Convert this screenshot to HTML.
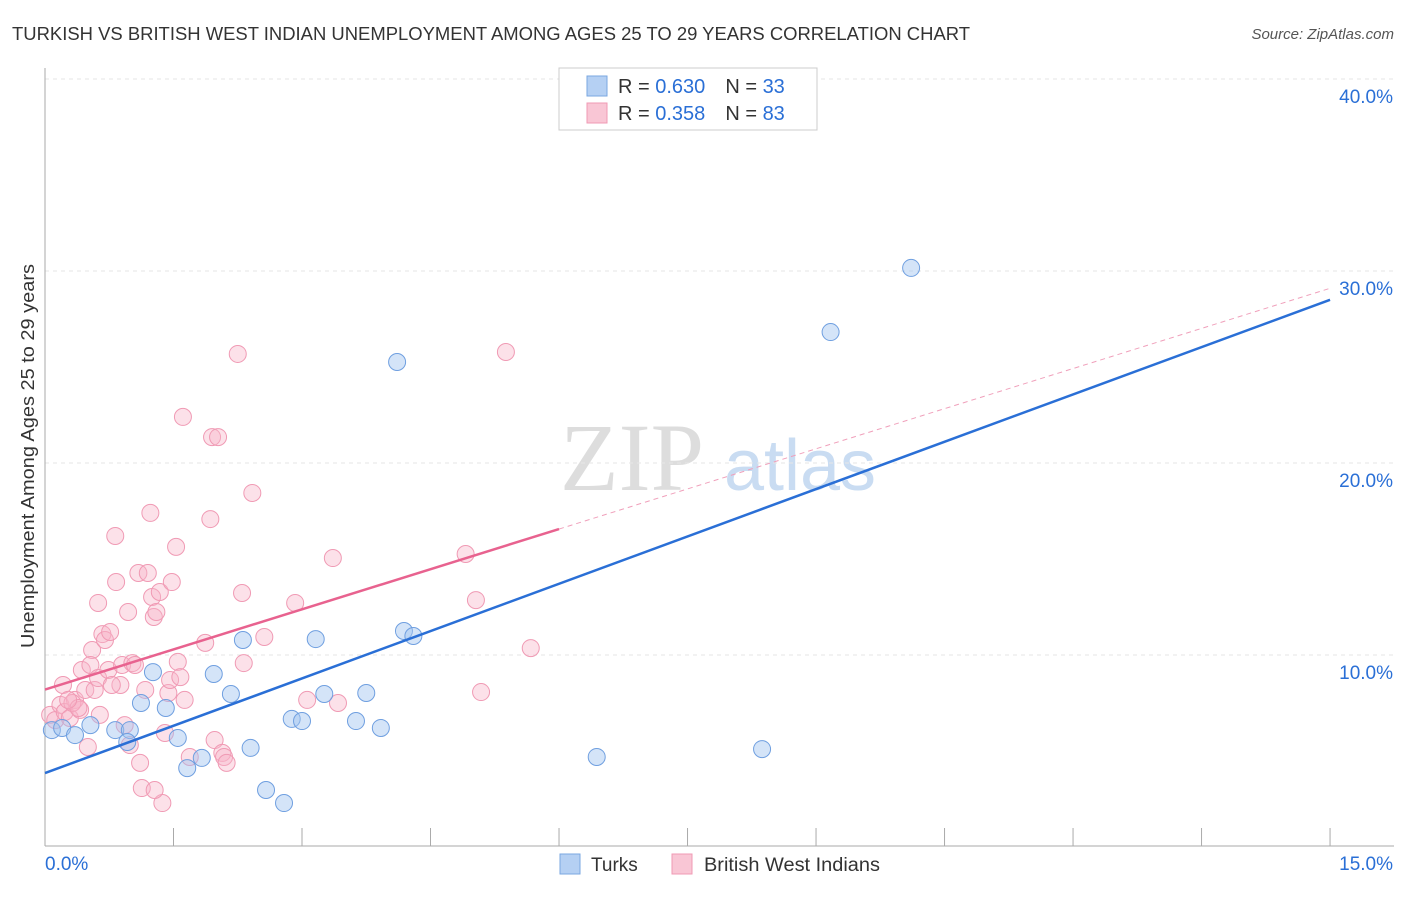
<!DOCTYPE html>
<html><head><meta charset="utf-8"><style>
body{margin:0;background:#fff;font-family:"Liberation Sans",sans-serif;}
</style></head><body>
<svg id="c" width="1406" height="892" xmlns="http://www.w3.org/2000/svg">
<text x="12" y="40" font-size="18" fill="#333" textLength="958" lengthAdjust="spacingAndGlyphs">TURKISH VS BRITISH WEST INDIAN UNEMPLOYMENT AMONG AGES 25 TO 29 YEARS CORRELATION CHART</text>
<text x="1394" y="39" font-size="15" fill="#555" font-style="italic" text-anchor="end">Source: ZipAtlas.com</text>
<text x="632" y="490" font-size="96" fill="#ddd" font-family="Liberation Serif" text-anchor="middle">ZIP</text>
<text x="800" y="490" font-size="72" fill="#c9dcf2" text-anchor="middle">atlas</text>
<text transform="translate(34,456) rotate(-90)" font-size="18" fill="#333" text-anchor="middle" textLength="384" lengthAdjust="spacingAndGlyphs">Unemployment Among Ages 25 to 29 years</text>
<g id="grid"></g><g id="marks"></g>
<g>
<rect x="559" y="68" width="258" height="62" fill="#fff" stroke="#ccc"/>
<rect x="587" y="76" width="20" height="20" fill="#b5d0f3" stroke="#7aa7e0"/>
<rect x="587" y="103" width="20" height="20" fill="#f9c6d5" stroke="#f09ab4"/>
<text x="618" y="93" font-size="20" fill="#333">R = <tspan fill="#2a6fd6">0.630</tspan><tspan dx="20">N = </tspan><tspan fill="#2a6fd6">33</tspan></text>
<text x="618" y="120" font-size="20" fill="#333">R = <tspan fill="#2a6fd6">0.358</tspan><tspan dx="20">N = </tspan><tspan fill="#2a6fd6">83</tspan></text>
</g>
<g>
<rect x="560" y="854" width="20" height="20" fill="#b5d0f3" stroke="#7aa7e0"/>
<text x="591" y="871" font-size="19" fill="#333">Turks</text>
<rect x="672" y="854" width="20" height="20" fill="#f9c6d5" stroke="#f09ab4"/>
<text x="704" y="871" font-size="19" fill="#333" textLength="176" lengthAdjust="spacingAndGlyphs">British West Indians</text>
</g>
</svg>
<script>
const xTicks=[0,1.5,3,4.5,6,7.5,9,10.5,12,13.5,15];
const yTicks=[10,20,30,40];
const yTickLabels=["10.0%","20.0%","30.0%","40.0%"];
const turksX=[0.08,0.20,0.35,0.53,0.82,0.99,0.96,1.12,1.26,1.41,1.55,1.66,1.83,1.97,2.17,2.31,2.40,2.58,2.79,2.88,3.00,3.16,3.26,3.63,3.75,3.92,4.11,4.19,4.30,6.44,8.37,9.17,10.11];
const turksY=[6.09,6.20,5.83,6.35,6.09,6.09,5.47,7.50,9.11,7.24,5.68,4.11,4.64,9.01,7.97,10.78,5.16,2.97,2.29,6.67,6.56,10.83,7.97,6.56,8.02,6.20,25.26,11.25,10.99,4.69,5.10,26.82,30.16];
const bwiX=[0.06,0.12,0.18,0.23,0.29,0.35,0.41,0.47,0.21,0.32,0.39,0.50,0.43,0.55,0.53,0.58,0.62,0.67,0.70,0.76,0.62,0.74,0.82,0.83,0.88,0.90,0.93,0.97,0.99,1.02,1.05,1.09,1.11,1.13,1.17,1.20,1.23,1.25,1.27,1.30,1.34,1.37,1.40,1.44,1.46,1.48,1.53,1.55,1.58,1.61,1.63,1.69,1.87,1.93,1.95,2.02,1.98,2.07,2.09,2.12,2.25,2.30,2.32,2.42,2.56,2.92,3.06,3.36,3.42,4.91,5.03,5.09,5.38,5.67,0.27,1.28,0.64,0.78];
const bwiY=[6.88,6.61,7.40,7.03,6.72,7.66,7.14,8.18,8.44,7.50,7.24,5.21,9.22,10.26,9.48,8.18,12.71,11.09,10.78,11.20,8.80,9.22,16.20,13.80,8.44,9.48,6.35,12.24,5.31,9.58,9.48,14.27,4.38,3.07,8.18,14.27,17.40,13.02,11.98,12.24,13.28,2.29,5.94,8.02,8.70,13.80,15.63,9.64,8.85,22.40,7.66,4.69,10.63,17.08,21.35,21.35,5.57,4.90,4.69,4.38,25.68,13.23,9.58,18.44,10.94,12.71,7.66,15.05,7.50,15.26,12.86,8.07,25.78,10.36,7.66,2.97,6.88,8.44];
const turksLine=[3.85,28.5];
const bwiLine=[8.2,29.1];
const bwiSolidEnd=6.0;
const NS="http://www.w3.org/2000/svg";
const X=v=>45+v*85.67, Y=v=>847-v*19.2;
function mk(t,a,p){const e=document.createElementNS(NS,t);for(const k in a)e.setAttribute(k,a[k]);p.appendChild(e);return e;}
const g=document.getElementById('grid'), m=document.getElementById('marks');
yTicks.forEach((t,i)=>{
 const l=mk('line',{x1:45,x2:1394,y1:Y(t),y2:Y(t),stroke:'#e6e6e6','stroke-dasharray':'4,4'},g);
 
 
 const tx=mk('text',{x:1393,y:Y(t)+24,'font-size':19,fill:'#2a6fd6','text-anchor':'end'},g);
 tx.textContent=yTickLabels[i];
 
 
});
mk('line',{x1:45,x2:45,y1:68,y2:846,stroke:'#aaa'},g);
mk('line',{x1:45,x2:1394,y1:846,y2:846,stroke:'#aaa'},g);
xTicks.forEach(t=>{const l=mk('line',{x1:X(t),x2:X(t),y1:828,y2:846,stroke:'#aaa'},g);
 
 });
let t0=mk('text',{x:45,y:870,'font-size':19,fill:'#2a6fd6'},g);t0.textContent='0.0%';


let t1=mk('text',{x:1393,y:870,'font-size':19,fill:'#2a6fd6','text-anchor':'end'},g);t1.textContent='15.0%';


bwiX.forEach((x,i)=>{const c=mk('circle',{cx:X(x),cy:Y(bwiY[i]),r:8.5,fill:'rgba(248,180,200,0.4)',stroke:'#f09ab4','stroke-width':1},m);
 
 });
turksX.forEach((x,i)=>{const c=mk('circle',{cx:X(x),cy:Y(turksY[i]),r:8.5,fill:'rgba(160,196,240,0.45)',stroke:'#6f9fe0','stroke-width':1},m);
 
 });
const by=v=>bwiLine[0]+(bwiLine[1]-bwiLine[0])*v/15;
let d=mk('line',{x1:X(bwiSolidEnd),y1:Y(by(bwiSolidEnd)),x2:X(15),y2:Y(by(15)),stroke:'#f0a0bb','stroke-dasharray':'5,4','stroke-width':1},m);


let s=mk('line',{x1:X(0),y1:Y(by(0)),x2:X(bwiSolidEnd),y2:Y(by(bwiSolidEnd)),stroke:'#e8628f','stroke-width':2.5},m);


let b=mk('line',{x1:X(0),y1:Y(turksLine[0]),x2:X(15),y2:Y(turksLine[1]),stroke:'#2a6fd6','stroke-width':2.5},m);


</script>
</body></html>
